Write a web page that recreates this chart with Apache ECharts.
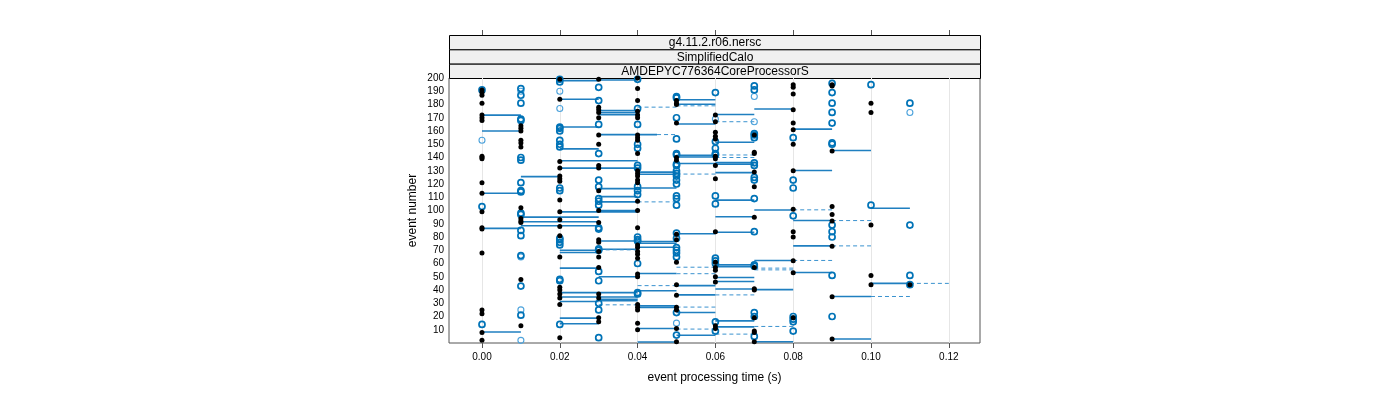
<!DOCTYPE html>
<html>
<head>
<meta charset="utf-8">
<script src="https://cdn.jsdelivr.net/npm/echarts@6/dist/echarts.min.js"></script>
<style>
html,body{margin:0;padding:0;background:#fff;}
#chart{width:1400px;height:400px;}
</style>
</head>
<body>
<div id="chart"></div>
<script>
// ---- data ----
const stripLabels = ['g4.11.2.r06.nersc', 'SimplifiedCalo', 'AMDEPYC776364CoreProcessorS'];
const xTickValues = [0, 0.02, 0.04, 0.06, 0.08, 0.10, 0.12];
const xTickLabels = ['0.00', '0.02', '0.04', '0.06', '0.08', '0.10', '0.12'];
const timeSteps = [0.00, 0.01, 0.02, 0.03, 0.04, 0.05, 0.06, 0.07, 0.08, 0.09, 0.10, 0.11];

// event numbers per time step
const blackEvents = [
  [191,189,187,181,172,170,168,141,140,139,121,113,99,87,86,68,25,22,8,2],
  [164,162,160,153,151,148,102,94,92,91,48,13],
  [199,184,137,132,126,124,122,108,99,93,88,81,65,42,40,37,34,29,4],
  [199,178,176,174,170,157,150,134,132,115,100,91,78,76,69,65,57,37,34,19,16],
  [200,192,183,175,172,170,157,155,153,143,130,128,126,123,121,107,100,87,74,72,69,67,64,52,50,29,27,25,15,10],
  [183,181,180,166,140,138,82,78,61,44,36,27,25,11,1],
  [172,167,159,156,154,141,139,134,124,84,61,57,55,50,46,13,11],
  [157,144,143,129,118,95,57,41,40,19,9,8,1],
  [195,193,188,176,166,161,150,130,101,84,80,62,53,19],
  [195,194,145,103,97,92,73,35,3],
  [181,174,89,51,44],
  [44]
];
const darkCircleEvents = [
  [191,103,14],
  [192,187,181,169,168,140,138,121,115,114,98,97,85,81,66,43,21],
  [199,197,163,162,160,153,150,148,117,115,79,78,76,74,48,47,14],
  [193,183,165,143,123,118,109,107,104,87,86,71,70,54,47,30,25,4],
  [199,177,165,150,147,134,132,118,115,112,80,78,77,60,38,37],
  [186,185,170,154,143,142,135,134,130,128,126,123,120,111,109,104,83,79,72,70,68,65,23,6],
  [189,152,147,143,142,111,105,64,62,60,16,9],
  [194,191,158,157,155,136,134,125,123,109,84,59,58,23,20,5],
  [155,123,117,96,20,18,16,9],
  [196,189,181,174,166,151,150,89,84,80,51,20],
  [195,104],
  [181,89,51,44]
];
const lightCircleEvents = [
  [153], [190,65,25,2], [190,177], [], [], [15], [169], [186,167], [], [], [], [174]
];

// [from time, to time, event]
const solidSegments = [
  [0,0.01,172],[0,0.01,160],[0,0.01,113],[0,0.01,86.5],[0,0.01,8.3],
  [0.01,0.02,125.6],[0.01,0.03,95],[0.01,0.03,91.5],[0.01,0.03,88.5],
  [0.02,0.03,198],[0.02,0.03,184],[0.02,0.03,163],[0.02,0.03,146.5],[0.02,0.03,70],[0.02,0.03,68.3],[0.02,0.03,56.5],[0.02,0.03,31.3],[0.02,0.03,18.8],[0.02,0.03,14.5],
  [0.02,0.04,137.5],[0.02,0.04,132],[0.02,0.04,99],[0.02,0.04,38],[0.02,0.04,34.7],
  [0.03,0.04,198.5],[0.03,0.04,175.4],[0.03,0.04,173.8],[0.03,0.04,172.3],[0.03,0.045,157.3],[0.03,0.04,116.5],[0.03,0.04,110.5],[0.03,0.04,106.5],[0.03,0.04,100],[0.03,0.04,77],[0.03,0.04,70.8],[0.03,0.04,50],[0.03,0.04,33],[0.03,0.04,32],
  [0.04,0.05,129],[0.04,0.05,127.4],[0.04,0.05,117],[0.04,0.05,76.6],[0.04,0.05,75.3],[0.04,0.05,72.3],[0.04,0.05,52.5],[0.04,0.05,39.4],[0.04,0.05,28],[0.04,0.05,26.8],[0.04,0.05,11],[0.04,0.05,0.7],
  [0.05,0.06,183.6],[0.05,0.06,180.2],[0.05,0.06,165.3],[0.05,0.06,141.6],[0.05,0.06,140.4],[0.05,0.06,135.5],[0.05,0.06,82.5],[0.05,0.06,43.3],[0.05,0.06,36.3],[0.05,0.06,23],[0.05,0.06,5.9],
  [0.06,0.07,172.4],[0.06,0.07,151.5],[0.06,0.07,136.2],[0.06,0.07,135],[0.06,0.07,128.6],[0.06,0.07,107.8],[0.06,0.07,95.3],[0.06,0.07,83.6],[0.06,0.07,59],[0.06,0.07,57.5],[0.06,0.07,49.4],[0.06,0.07,46.4],[0.06,0.07,40.8],[0.06,0.07,16.7],[0.06,0.07,12.2],
  [0.07,0.08,176.6],[0.07,0.08,100.4],[0.07,0.08,62.3],[0.07,0.08,40.3],[0.07,0.08,1],
  [0.08,0.09,161.4],[0.08,0.09,130.2],[0.08,0.09,92.4],[0.08,0.09,73.3],[0.08,0.09,53.2],
  [0.09,0.10,145.3],[0.09,0.10,35.1],[0.09,0.10,3],
  [0.10,0.11,101.7],[0.10,0.11,45]
];
const dashedSegments = [
  [0.04,0.05,178],[0.05,0.06,179],[0.045,0.05,157.3],[0.05,0.06,127.5],[0.04,0.05,106.5],
  [0.03,0.04,70.3],[0.05,0.06,57.2],[0.05,0.06,52.3],[0.04,0.05,43.3],[0.03,0.04,28.8],[0.05,0.06,27.1],[0.05,0.06,10.5],
  [0.06,0.07,167],[0.06,0.07,141.9],[0.06,0.07,140],[0.06,0.07,36.3],[0.06,0.07,6.7],
  [0.07,0.08,56.5],[0.07,0.08,55.2],[0.07,0.08,12.5],
  [0.08,0.09,100.5],[0.08,0.09,62.3],[0.09,0.10,92.4],[0.09,0.10,73.3],[0.10,0.11,35.1],[0.11,0.12,45]
];

// ---- build point lists ----
function toPoints(lists) {
  const out = [];
  lists.forEach((evs, i) => evs.forEach(e => out.push([timeSteps[i], e])));
  return out;
}
const blackPoints = toPoints(blackEvents);
const darkPoints = toPoints(darkCircleEvents);
const lightPoints = toPoints(lightCircleEvents);

const FONT = '"Liberation Sans", Arial, Helvetica, sans-serif';
const GRID = {left: 449, top: 78, right: 420, bottom: 57};

function segRenderer(color, width, dash) {
  return function (params, api) {
    const p1 = api.coord([api.value(0), api.value(2)]);
    const p2 = api.coord([api.value(1), api.value(2)]);
    return {
      type: 'line',
      shape: {x1: p1[0], y1: p1[1], x2: p2[0], y2: p2[1]},
      style: {stroke: color, lineWidth: width, lineDash: dash}
    };
  };
}

const chart = echarts.init(document.getElementById('chart'), null, {renderer: 'canvas'});

const stripH = (GRID.top - 35) / 3;
const stripGraphics = stripLabels.map((t, i) => ({
  type: 'group',
  left: GRID.left,
  top: 35 + i * stripH,
  children: [
    {type: 'rect', shape: {x: 0, y: 0, width: 1400 - GRID.left - GRID.right, height: stripH},
     style: {fill: '#f0f0f0', stroke: '#000', lineWidth: 1}},
    {type: 'text', x: (1400 - GRID.left - GRID.right) / 2, y: stripH / 2 + 0.5,
     style: {text: t, font: '12px ' + FONT, fill: '#000', align: 'center', verticalAlign: 'middle'}}
  ]
}));

chart.setOption({
  animation: false,
  backgroundColor: '#fff',
  grid: Object.assign({show: true, borderColor: '#555', borderWidth: 1, backgroundColor: 'transparent'}, GRID),
  graphic: stripGraphics,
  xAxis: [{
    type: 'value',
    min: -0.00848, max: 0.12802,
    position: 'bottom',
    name: 'event processing time (s)',
    nameLocation: 'middle',
    nameGap: 29,
    nameTextStyle: {fontFamily: FONT, fontSize: 12, color: '#000'},
    axisLine: {show: false},
    axisTick: {show: true, length: 5, customValues: xTickValues, lineStyle: {color: '#555'}},
    axisLabel: {customValues: xTickValues, formatter: v => xTickLabels[xTickValues.findIndex(t => Math.abs(t - v) < 1e-9)] || '',
      fontFamily: FONT, fontSize: 10, color: '#000', margin: 9},
    splitLine: {show: false}
  }, {
    type: 'value',
    min: -0.00848, max: 0.12802,
    position: 'top',
    offset: GRID.top - 35,
    axisLine: {show: false},
    axisTick: {show: true, length: 5, customValues: xTickValues, lineStyle: {color: '#555'}},
    axisLabel: {show: false},
    splitLine: {show: false}
  }],
  yAxis: {
    type: 'value',
    min: 0, max: 200, interval: 10,
    name: 'event number',
    nameLocation: 'middle',
    nameGap: 30,
    nameRotate: 90,
    nameTextStyle: {fontFamily: FONT, fontSize: 12, color: '#000'},
    axisLine: {show: false},
    axisTick: {show: false},
    axisLabel: {showMinLabel: false, fontFamily: FONT, fontSize: 10, color: '#000', margin: 5},
    splitLine: {show: false}
  },
  series: [
    {
      type: 'custom', name: 'solid', xAxisIndex: 0,
      renderItem: segRenderer('#1f7fc0', 1.6, null),
      encode: {x: [0, 1], y: 2},
      data: solidSegments,
      clip: true, silent: true, z: 2,
      markLine: {
        silent: true, symbol: 'none', label: {show: false},
        lineStyle: {color: '#e6e6e6', width: 1, type: 'solid'},
        data: xTickValues.map(v => ({xAxis: v})), z: 1
      }
    },
    {
      type: 'custom', name: 'dashed', xAxisIndex: 0,
      renderItem: segRenderer('#3a92cf', 1, [4, 3]),
      encode: {x: [0, 1], y: 2},
      data: dashedSegments,
      clip: true, silent: true, z: 2
    },
    {
      type: 'scatter', name: 'light', data: lightPoints,
      symbol: 'circle', symbolSize: 6,
      itemStyle: {color: 'rgba(255,255,255,0)', borderColor: '#4da3dc', borderWidth: 1.1, opacity: 1},
      silent: true, z: 3
    },
    {
      type: 'scatter', name: 'dark', data: darkPoints,
      symbol: 'circle', symbolSize: 6,
      itemStyle: {color: 'rgba(255,255,255,0)', borderColor: '#0073b7', borderWidth: 1.7, opacity: 1},
      silent: true, z: 4
    },
    {
      type: 'scatter', name: 'black', data: blackPoints,
      symbol: 'circle', symbolSize: 5,
      itemStyle: {color: '#000', opacity: 1},
      silent: true, z: 5
    }
  ]
});
</script>
</body>
</html>
